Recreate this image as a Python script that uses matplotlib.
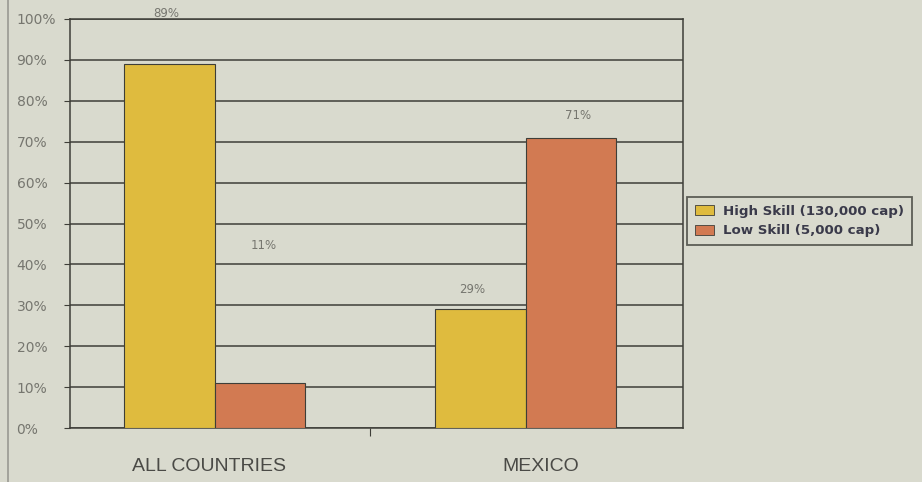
import matplotlib
matplotlib.use("Agg")
import matplotlib.pyplot as plt
from matplotlib.lines import Line2D
from matplotlib.patches import Patch
import numpy as np

categories = ["ALL COUNTRIES", "MEXICO"]
series_names = ["High Skill (130,000 cap)", "Low Skill (5,000 cap)"]
high_skill = [89, 29]
low_skill = [11, 71]
y_ticks = [0, 10, 20, 30, 40, 50, 60, 70, 80, 90, 100]
y_tick_labels = ["0%", "10%", "20%", "30%", "40%", "50%", "60%", "70%", "80%", "90%", "100%"]

BG = "#d9dace"
YELLOW = "#dfbb3e"
ORANGE = "#d27a52"
LINE = "#3e3e38"
TEXT = "#76766f"

fig = plt.figure(figsize=(9.22, 4.82), dpi=100, facecolor=BG)
ax = fig.add_axes([70 / 922, 1 - 428 / 482, 613 / 922, 409 / 482], facecolor=BG)

x = np.arange(len(categories))
w = 0.29
bars_hi = ax.bar(x - w / 2, high_skill, w, color=YELLOW, edgecolor=LINE, linewidth=0.8, zorder=3)
bars_lo = ax.bar(x + w / 2, low_skill, w, color=ORANGE, edgecolor=LINE, linewidth=0.8, zorder=3)

ax.set_xlim(-0.465, 1.506)
ax.set_ylim(0, 100)
ax.set_yticks(y_ticks)
ax.set_yticklabels(y_tick_labels)
ax.yaxis.grid(True, color=LINE, linewidth=1.1, zorder=1)
ax.tick_params(axis="y", length=4.5, color=LINE, labelcolor=TEXT, labelsize=10, pad=34)
for lab in ax.get_yticklabels():
    lab.set_horizontalalignment("left")
ax.set_xticks([0.5])
ax.set_xticklabels([""])
ax.tick_params(axis="x", length=6, color=LINE, direction="out")
for s in ax.spines.values():
    s.set_color(LINE)
    s.set_linewidth(1.1)

# category labels under groups (as placed in the scan)
cat_dx = [-4, 11]
for xi, name, dx in zip(x, categories, cat_dx):
    ax.annotate(name, (xi, 0), xytext=(dx, -28), textcoords="offset points",
                ha="center", va="center", fontsize=14, color="#4a4a46",
                family="Liberation Sans")

# value labels, placed as in the scan (offsets in points from bar top)
offsets = [(-2, 36), (-6, 14), (3, 99), (5, 16)]
allbars = list(bars_hi) + list(bars_lo)
vals = high_skill + low_skill
for b, v, off in zip(allbars, vals, offsets):
    ax.annotate(f"{v}%", (b.get_x() + b.get_width() / 2, v), xytext=off,
                textcoords="offset points", ha="center", va="center",
                fontsize=8.5, color=TEXT)

handles = [Patch(facecolor=YELLOW, edgecolor=LINE, linewidth=0.6),
           Patch(facecolor=ORANGE, edgecolor=LINE, linewidth=0.6)]
leg = fig.legend(handles, series_names, loc="center left",
                 bbox_to_anchor=(687 / 922, 1 - 221 / 482),
                 prop={"weight": "bold", "size": 9.6},
                 frameon=True, fancybox=False, handlelength=1.4, handleheight=0.8,
                 handletextpad=0.7, borderpad=0.6, labelspacing=0.5,
                 borderaxespad=0)
leg.get_frame().set_facecolor(BG)
leg.get_frame().set_edgecolor(LINE)
leg.get_frame().set_linewidth(1.3)
for t in leg.get_texts():
    t.set_color("#3a3a4a")

# scan page edge
fig.add_artist(Line2D([8 / 922, 8 / 922], [0, 1], color="#9a9a92", linewidth=1.2))

fig.savefig("out.png", dpi=100, facecolor=BG)
